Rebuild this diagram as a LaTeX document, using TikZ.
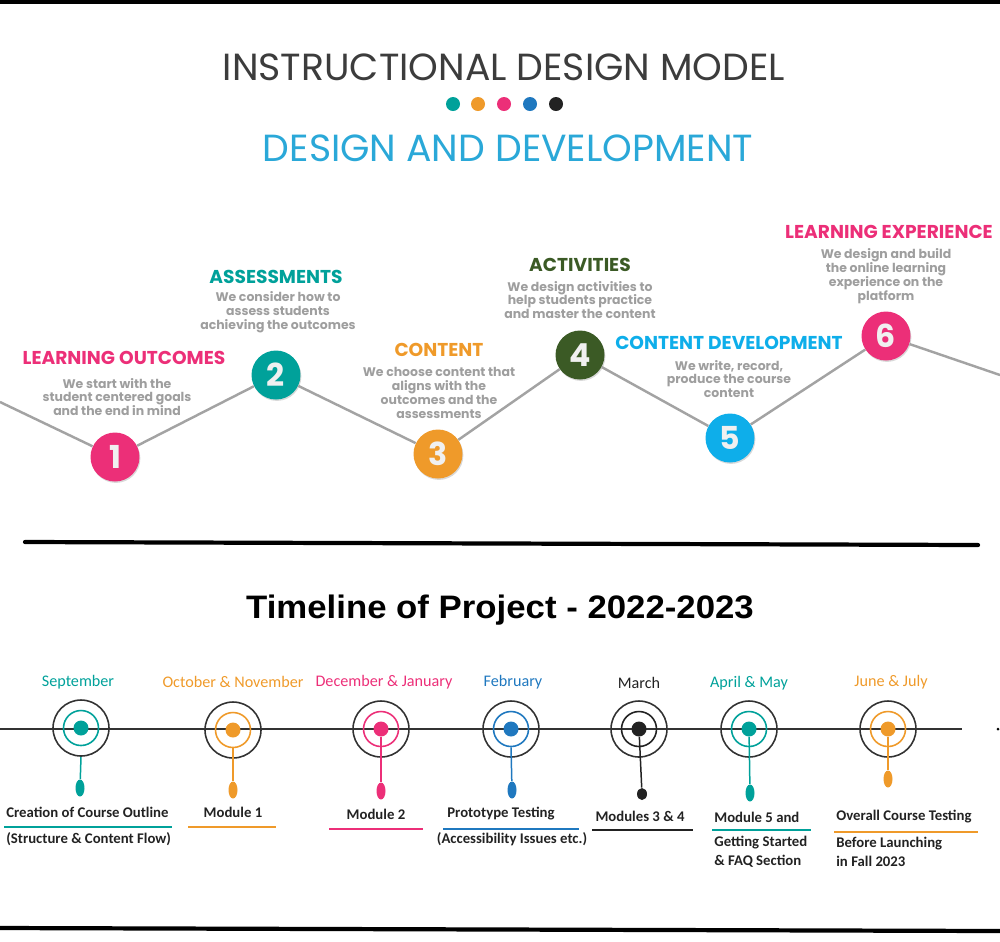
\documentclass[tikz,border=0pt]{standalone}
\usepackage{fontspec}
\setmainfont{Poppins}
\newfontfamily\calib{Carlito}
\newfontfamily\arialf{Liberation Sans}
\usepackage{xcolor}
\usepackage{graphicx}
\usetikzlibrary{shapes.geometric,shadows}

\definecolor{pinkc}{RGB}{236,47,120}
\definecolor{tealc}{RGB}{0,161,154}
\definecolor{orangec}{RGB}{239,154,42}
\definecolor{greenc}{RGB}{59,90,37}
\definecolor{skyc}{RGB}{14,174,234}
\definecolor{bluec}{RGB}{31,120,191}
\definecolor{darkc}{RGB}{34,34,34}
\definecolor{titlegray}{RGB}{60,60,60}
\definecolor{subblue}{RGB}{42,168,216}
\definecolor{descgray}{RGB}{158,158,158}
\definecolor{ziggray}{RGB}{163,163,163}
\definecolor{ringgray}{RGB}{50,50,50}

\begin{document}
\begin{tikzpicture}[
    x=0.02cm, y=-0.02cm,
    titletext/.style={inner sep=0, font=\fontsize{21.5}{21.5}\selectfont},
    dotc/.style={circle, minimum size=0.28cm, inner sep=0},
    num/.style={circle, minimum size=0.98cm, inner sep=0, text=white!94!black, font=\fontsize{18}{18}\selectfont\bfseries, drop shadow={opacity=0.3, shadow xshift=0.5pt, shadow yshift=-0.8pt}},
    head/.style={inner sep=0, font=\fontsize{10.6}{10.6}\selectfont\bfseries},
    desc/.style={inner sep=0, align=center, text=descgray, font=\fontsize{7.1}{7.9}\selectfont\bfseries},
    zig/.style={draw=ziggray, line width=1.4pt},
    tltitle/.style={inner sep=0, font=\arialf\fontsize{18.5}{18.5}\selectfont\bfseries},
    tline/.style={draw=ringgray, line width=0.9pt},
    outer/.style={circle, draw=ringgray, line width=0.9pt, minimum size=1.12cm, inner sep=0},
    midring/.style={circle, line width=0.9pt, minimum size=0.7cm, inner sep=0},
    dot/.style={circle, minimum size=0.3cm, inner sep=0},
    drop/.style={ellipse, minimum width=0.18cm, minimum height=0.34cm, inner sep=0},
    stem/.style={line width=0.85pt},
    month/.style={inner sep=0, font=\calib\fontsize{9.2}{9.2}\selectfont},
    task/.style={inner sep=0, anchor=west, text=darkc, font=\calib\fontsize{8.4}{10.8}\selectfont\bfseries},
    uline/.style={line width=1pt},
]
    \useasboundingbox (0,0) rectangle (1000,941);

    % frame lines
    \fill[black] (0,0) rectangle (1000,4);
    \draw[line width=2.4pt, line cap=round] (25,542) -- (978,545);
    \draw[line width=2.4pt] (0,928) -- (1000,931);

    % heading
    \node[titletext, text=titlegray] (title) at (504,67) {INSTRUCTIONAL DESIGN MODEL};
    \node[dotc, fill=tealc] (p1) at (453,104) {};
    \node[dotc, fill=orangec] (p2) at (478,104) {};
    \node[dotc, fill=pinkc] (p3) at (504,104) {};
    \node[dotc, fill=bluec] (p4) at (530,104) {};
    \node[dotc, fill=darkc] (p5) at (556,104) {};
    \node[titletext, text=subblue] (subtitle) at (508,148) {DESIGN AND DEVELOPMENT};

    % the six steps
    \coordinate (zl) at (0,402);
    \coordinate (zr) at (1000,375);
    \node[num, fill=pinkc] (c1) at (115,457) {1};
    \node[num, fill=tealc] (c2) at (276,375) {2};
    \node[num, fill=orangec] (c3) at (438,454) {3};
    \node[num, fill=greenc] (c4) at (580,355) {4};
    \node[num, fill=skyc] (c5) at (730,438) {5};
    \node[num, fill=pinkc] (c6) at (886,336) {6};
    \draw[zig] (zl) -- (c1) -- (c2) -- (c3) -- (c4) -- (c5) -- (c6) -- (zr);

    \node[head, text=pinkc] (h1) at (124,358) {LEARNING OUTCOMES};
    \node[desc] (d1) at (117,397) {We start with the\\student centered goals\\and the end in mind};

    \node[head, text=tealc] (h2) at (276,277) {ASSESSMENTS};
    \node[desc] (d2) at (278,312) {We consider how to\\assess students\\achieving the outcomes};

    \node[head, text=orangec] (h3) at (439,350) {CONTENT};
    \node[desc] (d3) at (439,393) {We choose content that\\aligns with the\\outcomes and the\\assessments};

    \node[head, text=greenc] (h4) at (580,265) {ACTIVITIES};
    \node[desc] (d4) at (580,300) {We design activities to\\help students practice\\and master the content};

    \node[head, text=skyc] (h5) at (729,343) {CONTENT DEVELOPMENT};
    \node[desc] (d5) at (729,379) {We write, record,\\produce the course\\content};

    \node[head, text=pinkc] (h6) at (889,232) {LEARNING EXPERIENCE};
    \node[desc] (d6) at (886,276) {We design and build\\the online learning\\experience on the\\platform};

    % timeline
    \node[tltitle] (tltext) at (500,610) {\scalebox{1.07}[1]{Timeline of Project - 2022-2023}};
    \coordinate (ta) at (0,729);
    \coordinate (tb) at (962,729);
    \draw[tline] (ta) -- (tb);
    \node[circle, fill=black, minimum size=0.06cm, inner sep=0] (tend) at (998,729) {};

    \node[outer] (o1) at (81,728) {};
    \node[midring, draw=tealc] (m1) at (o1) {};
    \node[dot, fill=tealc] (k1) at (o1) {};
    \node[drop, fill=tealc] (e1) at (80,788) {};
    \draw[stem, tealc] (o1.south) -- (e1);
    \node[month, text=tealc] (n1) at (78,682) {September};

    \node[outer] (o2) at (233,730) {};
    \node[midring, draw=orangec] (m2) at (o2) {};
    \node[dot, fill=orangec] (k2) at (o2) {};
    \node[drop, fill=orangec] (e2) at (233,790) {};
    \draw[stem, orangec] (m2.south) -- (e2);
    \node[month, text=orangec] (n2) at (233,682) {October \& November};

    \node[outer] (o3) at (381,729) {};
    \node[midring, draw=pinkc] (m3) at (o3) {};
    \node[dot, fill=pinkc] (k3) at (o3) {};
    \node[drop, fill=pinkc] (e3) at (381,791) {};
    \draw[stem, pinkc] (k3) -- (e3);
    \node[month, text=pinkc] (n3) at (384,682) {December \& January};

    \node[outer] (o4) at (511,729) {};
    \node[midring, draw=bluec] (m4) at (o4) {};
    \node[dot, fill=bluec] (k4) at (o4) {};
    \node[drop, fill=bluec] (e4) at (512,790) {};
    \draw[stem, bluec] (m4.south) -- (e4);
    \node[month, text=bluec] (n4) at (513,682) {February};

    \node[outer] (o5) at (639,729) {};
    \node[midring, draw=darkc] (m5) at (o5) {};
    \node[dot, fill=darkc] (k5) at (o5) {};
    \node[drop, fill=darkc, minimum width=0.2cm, minimum height=0.24cm] (e5) at (642,794) {};
    \draw[stem, darkc] (k5) -- (e5);
    \node[month, text=darkc] (n5) at (639,683) {March};

    \node[outer] (o6) at (749,729) {};
    \node[midring, draw=tealc] (m6) at (o6) {};
    \node[dot, fill=tealc] (k6) at (o6) {};
    \node[drop, fill=tealc] (e6) at (750,793) {};
    \draw[stem, tealc] (k6) -- (e6);
    \node[month, text=tealc] (n6) at (749,683) {April \& May};

    \node[outer] (o7) at (888,729) {};
    \node[midring, draw=orangec] (m7) at (o7) {};
    \node[dot, fill=orangec] (k7) at (o7) {};
    \node[drop, fill=orangec] (e7) at (888,779) {};
    \draw[stem, orangec] (k7) -- (e7);
    \node[month, text=orangec] (n7) at (891,682) {June \& July};

    % tasks
    \node[task] (a1) at (6,812) {Creation of Course Outline};
    \draw[uline, tealc] (4,827) -- (172,827);
    \node[task] (b1) at (6,839) {(Structure \& Content Flow)};

    \node[task, anchor=center] (a2) at (233,812) {Module 1};
    \draw[uline, orangec] (188,827) -- (276,827);

    \node[task, anchor=center] (a3) at (376,814) {Module 2};
    \draw[uline, pinkc] (329,829) -- (423,829);

    \node[task, anchor=center] (a4) at (501,814) {Prototype Testing};
    \draw[uline, bluec] (443,829) -- (579,829);
    \node[task, anchor=center] (b4) at (512,839) {(Accessibility Issues etc.)};

    \node[task, anchor=center] (a5) at (640,816) {Modules 3 \& 4};
    \draw[uline, darkc] (592,830) -- (693,830);

    \node[task] (a6) at (714,817) {Module 5 and};
    \draw[uline, tealc] (712,830) -- (811,830);
    \node[task, align=left, anchor=north west] (b6) at (714,836) {Getting Started\\\& FAQ Section};

    \node[task] (a7) at (836,817) {Overall Course Testing};
    \draw[uline, orangec] (834,832) -- (978,832);
    \node[task, align=left, anchor=north west] (b7) at (836,837) {Before Launching\\in Fall 2023};
\end{tikzpicture}
\end{document}
